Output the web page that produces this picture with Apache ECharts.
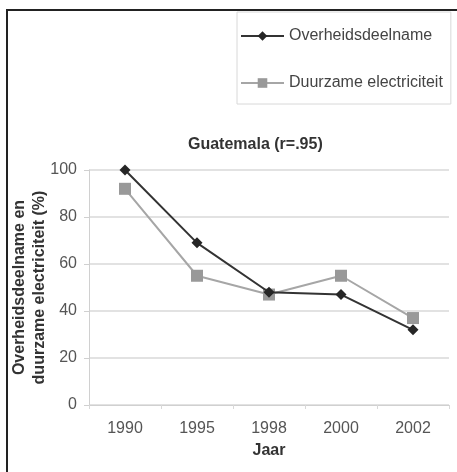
<!DOCTYPE html>
<html>
<head>
<meta charset="utf-8">
<script src="https://cdn.jsdelivr.net/npm/echarts@6/dist/echarts.min.js"></script>
<style>
  html, body { margin: 0; padding: 0; background: #fff; }
  #chart { width: 457px; height: 472px; }
</style>
</head>
<body>
<div id="chart"></div>
<script>
  // jaren op de x-as
  var years = ['1990', '1995', '1998', '2000', '2002'];
  // overheidsdeelname (%)
  var overheid = [100, 69, 48, 47, 32];
  // duurzame electriciteit (%)
  var duurzaam = [92, 55, 47, 55, 37];
  var yTicks = { min: 0, max: 100, step: 20 };

  var chart = echarts.init(document.getElementById('chart'));
  var font = 'Liberation Sans, Arial, sans-serif';

  chart.setOption({
    animation: false,
    textStyle: { fontFamily: font },
    title: {
      text: 'Guatemala (r=.95)',
      left: 183,
      top: 132,
      textStyle: { fontSize: 16, fontWeight: 'bold', color: '#333', fontFamily: font }
    },
    legend: {
      orient: 'vertical',
      left: 237,
      top: 12,
      padding: [16, 8, 13, 3],
      itemGap: 31,
      itemWidth: 43,
      itemHeight: 12,
      borderColor: '#d8d8d8',
      borderWidth: 1,
      textStyle: { fontSize: 16, color: '#444', fontFamily: font },
      data: ['Overheidsdeelname', 'Duurzame electriciteit']
    },
    grid: { left: 89, right: 8, top: 170, bottom: 67, outerBoundsMode: 'none' },
    xAxis: {
      type: 'category',
      data: years,
      boundaryGap: true,
      name: 'Jaar',
      nameLocation: 'middle',
      nameGap: 38,
      nameMoveOverlap: false,
      nameTextStyle: { fontSize: 16, fontWeight: 'bold', color: '#333' },
      axisLine: { lineStyle: { color: '#d0d0d0', width: 1 } },
      axisTick: { show: true, length: 4, lineStyle: { color: '#d8d8d8' } },
      axisLabel: { fontSize: 16, color: '#555', margin: 16 }
    },
    yAxis: {
      type: 'value',
      min: yTicks.min,
      max: yTicks.max,
      interval: yTicks.step,
      name: 'Overheidsdeelname en\nduurzame electriciteit (%)',
      nameLocation: 'middle',
      nameGap: 39,
      nameMoveOverlap: false,
      nameTextStyle: { fontSize: 16, fontWeight: 'bold', color: '#333', lineHeight: 20 },
      axisLine: { show: true, lineStyle: { color: '#d0d0d0', width: 1 } },
      axisTick: { show: true, length: 5, lineStyle: { color: '#d0d0d0' } },
      axisLabel: { fontSize: 16, color: '#555', margin: 12 },
      splitLine: { lineStyle: { color: '#e2e2e2', width: 2 } }
    },
    series: [
      {
        name: 'Overheidsdeelname',
        type: 'line',
        data: overheid,
        symbol: 'diamond',
        symbolSize: 11,
        z: 3,
        itemStyle: { color: '#262626' },
        lineStyle: { color: '#333', width: 2 }
      },
      {
        name: 'Duurzame electriciteit',
        type: 'line',
        data: duurzaam,
        symbol: 'rect',
        symbolSize: 12,
        z: 2,
        itemStyle: { color: '#999' },
        lineStyle: { color: '#a6a6a6', width: 2 }
      }
    ],
    graphic: [
      { type: 'line', shape: { x1: 7, y1: 10, x2: 7, y2: 472 }, style: { stroke: '#222', lineWidth: 2 } },
      { type: 'line', shape: { x1: 6, y1: 10, x2: 457, y2: 10 }, style: { stroke: '#222', lineWidth: 2 } }
    ]
  });
</script>
</body>
</html>
